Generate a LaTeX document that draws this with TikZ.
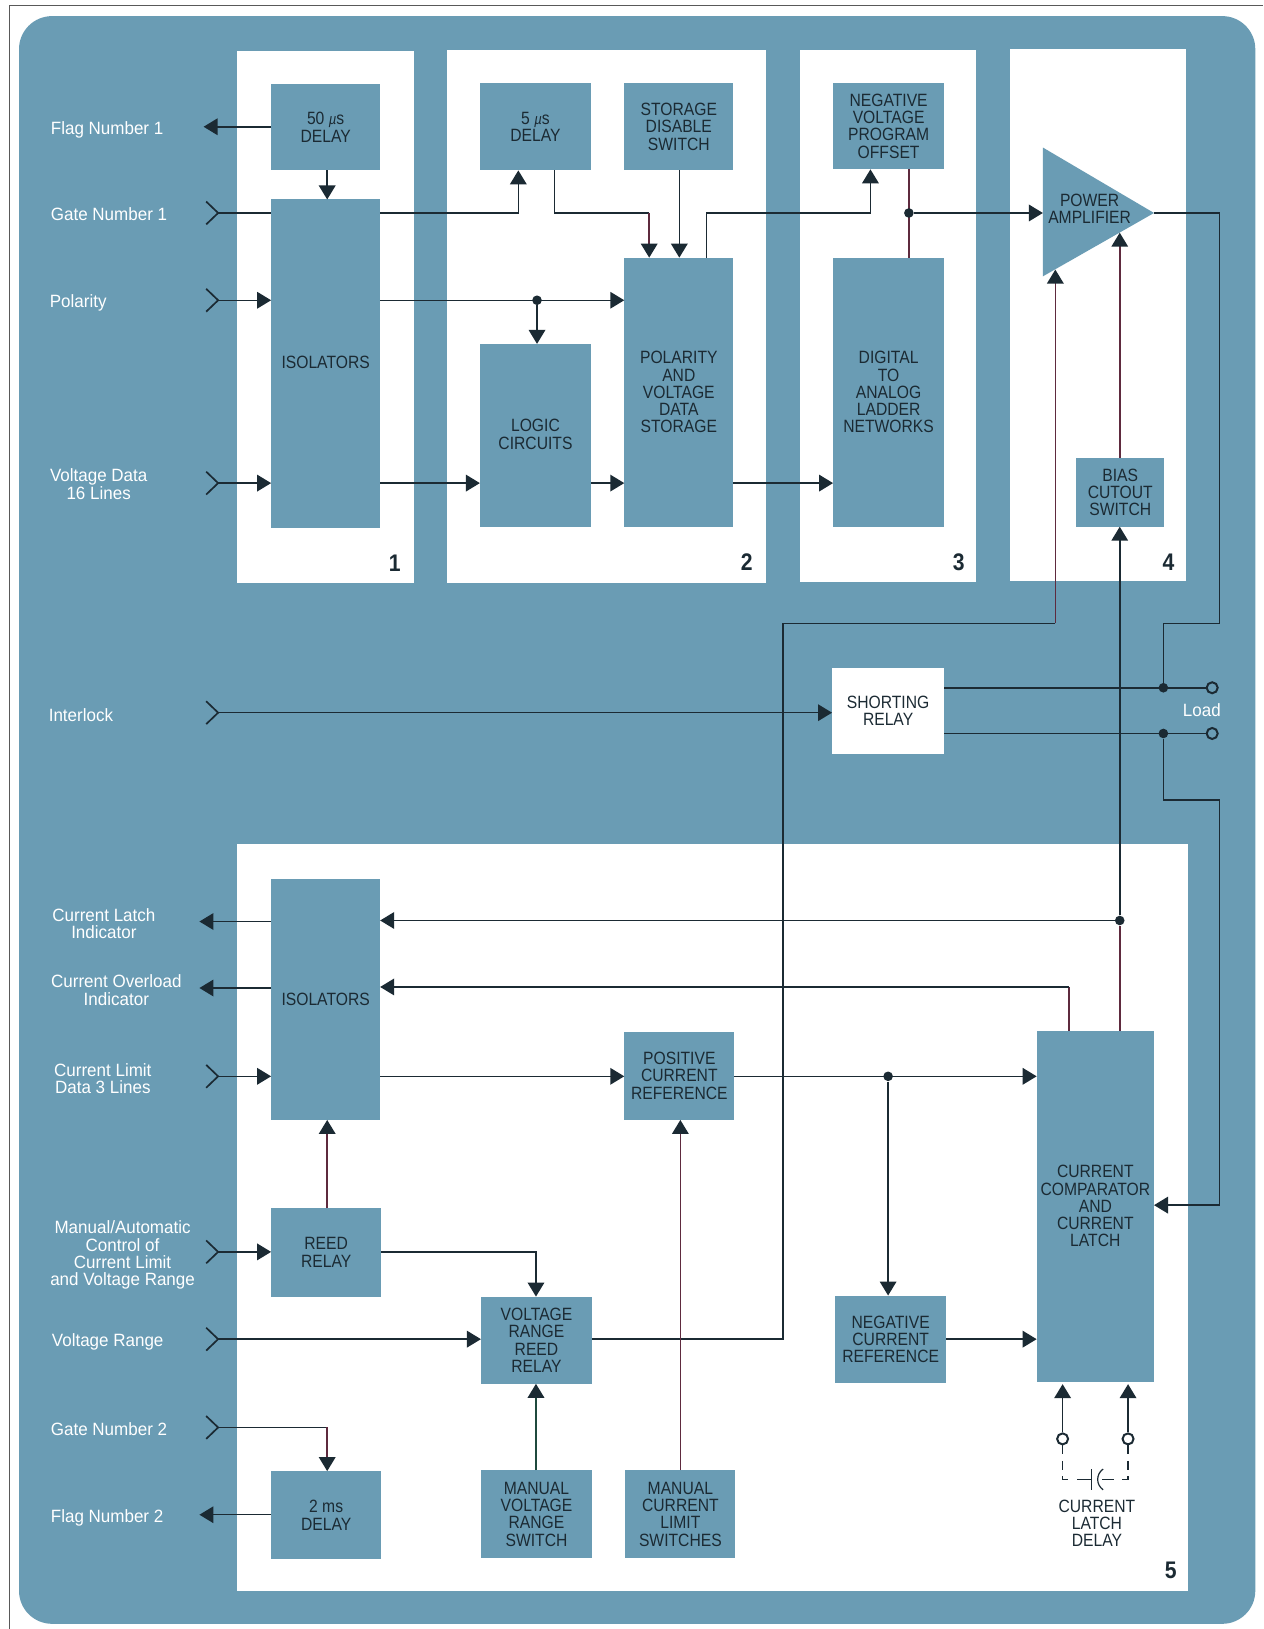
\documentclass[tikz,border=0pt]{standalone}
\usepackage{fontspec}
\setmainfont[FakeStretch=0.88]{Liberation Sans}
\newfontfamily\labelfont[FakeStretch=0.955]{Liberation Sans}
\usetikzlibrary{arrows.meta}
\definecolor{teal}{HTML}{6A9CB4}
\definecolor{ink}{HTML}{1B2A33}
\definecolor{maroon}{HTML}{5E2A3E}
\definecolor{dgreen}{HTML}{1F4A3E}
\tikzset{
  panel/.style={fill=white,draw=none},
  blocktext/.style={text=ink,font=\fontsize{8.9}{8.6}\selectfont,align=center,inner sep=0pt,outer sep=0pt},
  wlabel/.style={text=white,font=\labelfont\fontsize{8.9}{8.6}\selectfont,align=center,inner sep=0pt,outer sep=0pt},
  num/.style={text=ink,font=\fontsize{12}{12}\selectfont\bfseries,inner sep=0pt},
  wire/.style={draw=ink,line width=0.75pt},
  mwire/.style={draw=maroon,line width=0.75pt},
  gwire/.style={draw=dgreen,line width=0.75pt},
  arr/.style={-{Triangle[length=7pt,width=8.3pt,color=ink]}},
  jdot/.style={circle,fill=ink,inner sep=0pt,minimum size=4.8pt},
  term/.style={circle,draw=ink,line width=1pt,inner sep=0pt,minimum size=5.5pt},
  dashw/.style={draw=ink,line width=0.6pt,dash pattern=on 4.5pt off 3.2pt},
  chevron/.style={draw=ink,line width=0.85pt}
}
\newcommand{\bx}[7][teal]{%
  \pgfmathsetmacro{\cxx}{(#3+#5)/2}\pgfmathsetmacro{\cyy}{(#4+#6)/2}%
  \pgfmathsetmacro{\wdd}{(#5-#3)*0.5193}\pgfmathsetmacro{\htt}{(#6-#4)*0.5194}%
  \node[blocktext,fill=#1,minimum width=\wdd pt,minimum height=\htt pt] (#2) at (\cxx,\cyy) {#7};}
\newcommand{\chev}[2]{%
  \coordinate (#1) at (210,#2);
  \draw[chevron] (198.5,#2-11) -- (210,#2) -- (198.5,#2+11);}
\newcommand{\lvl}[1]{\coordinate (y#1) at (0,#1);}
\newcommand{\col}[1]{\coordinate (x#1) at (#1,0);}
\newcommand{\mus}{{\fontsize{7.5}{7.5}\selectfont\itshape µ}}
\begin{document}
\begin{tikzpicture}[x=0.5193pt,y=-0.5194pt]
\useasboundingbox (0,0) rectangle (1216,1568);
\fill[white] (0,0) rectangle (1216,1568);
\draw[gray!70!black,line width=0.35pt] (9,1568) -- (9,5.5) -- (1216,5.5);
\fill[teal,rounded corners=16.5pt] (18.3,15.5) rectangle (1208.5,1563);
% panels
\fill[panel] (228.5,49) rectangle (398.5,561);
\fill[panel] (430,48) rectangle (737,561);
\fill[panel] (770,48) rectangle (940,560);
\fill[panel] (972,47) rectangle (1142,559);
\fill[panel] (228.5,812) rectangle (1144,1531);
% level and column helpers
\foreach \v in {205,289,465,600,662,706,770,886,950,1036,1160,1205,1289,1374,1424,1414,1434}{\lvl{\v}}
\foreach \v in {499,534,625,654,680,838,875,1016,1029,1078,1120,1167,1174,754,517,855,315,516,655,1023,1086,1048,1051,1062,1314}{\col{\v}}
\coordinate (y122) at (0,122);\coordinate (y887) at (0,887);\coordinate (y951) at (0,951);\coordinate (y1458) at (0,1458);
% blocks
\bx{d50}{261}{81}{366}{164}{50 \mus s\\DELAY}
\bx{iso1}{261}{192}{366}{508}{\raisebox{1.5pt}{ISOLATORS}}
\bx{d5}{462}{80}{569}{164}{5 \mus s\\DELAY}
\bx{sds}{601}{80}{706}{164}{\raisebox{-0.5pt}{STORAGE}\\\raisebox{-0.5pt}{DISABLE}\\\raisebox{-0.5pt}{SWITCH}}
\bx{pvds}{601}{248}{706}{507}{POLARITY\\AND\\VOLTAGE\\DATA\\STORAGE}
\bx{logic}{462}{331}{569}{507}{\raisebox{1pt}{LOGIC}\\\raisebox{1pt}{CIRCUITS}}
\bx{nvpo}{802}{80}{909}{163}{\raisebox{-0.7pt}{NEGATIVE}\\\raisebox{-0.7pt}{VOLTAGE}\\\raisebox{-0.7pt}{PROGRAM}\\\raisebox{-0.7pt}{OFFSET}}
\bx{dac}{802}{248}{909}{507}{DIGITAL\\TO\\ANALOG\\LADDER\\NETWORKS}
\bx{bias}{1036}{441}{1121}{507}{BIAS\\CUTOUT\\SWITCH}
\bx[white]{short}{801}{643}{909}{726}{\raisebox{-1pt}{SHORTING}\\\raisebox{-1pt}{RELAY}}
\bx{iso2}{261}{846}{366}{1078}{ISOLATORS}
\bx{pcr}{601}{993}{707}{1078}{POSITIVE\\CURRENT\\REFERENCE}
\bx{ccl}{998}{992}{1111}{1330}{CURRENT\\COMPARATOR\\AND\\CURRENT\\LATCH}
\bx{reed}{261}{1163}{367}{1248}{REED\\RELAY}
\bx{vrr}{463}{1248}{570}{1332}{VOLTAGE\\RANGE\\REED\\RELAY}
\bx{ncr}{804}{1247}{911}{1331}{NEGATIVE\\CURRENT\\REFERENCE}
\bx{mvrs}{463}{1415}{570}{1500}{MANUAL\\VOLTAGE\\RANGE\\SWITCH}
\bx{mcls}{602}{1415}{708}{1500}{MANUAL\\CURRENT\\LIMIT\\SWITCHES}
\bx{d2}{261}{1416}{367}{1501}{2 ms\\DELAY}
% power amplifier
\coordinate (ampA) at (1004,142);\coordinate (ampB) at (1004,266);\coordinate (ampout) at (1111,205);
\fill[teal] (ampA) -- (ampout) -- (ampB) -- cycle;
\node[blocktext] (amp) at (1049,201) {POWER\\AMPLIFIER};
\coordinate (ampin) at (1004,205);\coordinate (ampbias) at (1078,224);\coordinate (amprange) at (1016,259.5);
% numbers
\node[num] (n1) at (380,542) {1};
\node[num] (n2) at (719,541) {2};
\node[num] (n3) at (923,541) {3};
\node[num] (n4) at (1125,541) {4};
\node[num] (n5) at (1127,1512) {5};
% white labels
\node[wlabel,anchor=west] (lf1) at (49,125) {Flag Number 1};
\node[wlabel,anchor=west] (lg1) at (49,206) {Gate Number 1};
\node[wlabel,anchor=west] (lp) at (48,292) {Polarity};
\node[wlabel] (lvd) at (95,466) {Voltage Data\\16 Lines};
\node[wlabel,anchor=west] (lil) at (47,688) {Interlock};
\node[wlabel] (lload) at (1157,684) {Load};
\node[wlabel] (lcl) at (100,889) {Current Latch\\Indicator};
\node[wlabel] (lco) at (112,953) {Current Overload\\Indicator};
\node[wlabel] (lcd) at (99,1038) {Current Limit\\Data 3 Lines};
\node[wlabel] (lma) at (118,1208) {Manual/Automatic\\Control of\\Current Limit\\and Voltage Range};
\node[wlabel,anchor=west] (lvr) at (50,1292) {Voltage Range};
\node[wlabel,anchor=west] (lg2) at (49,1376) {Gate Number 2};
\node[wlabel,anchor=west] (lf2) at (49,1461) {Flag Number 2};
% inputs
\chev{gate1}{205}
\chev{pol}{289}
\chev{vdata}{465}
\chev{ilock}{686}
\chev{climit}{1036}
\chev{mauto}{1205}
\chev{vrange}{1289}
\chev{gate2}{1374}
\coordinate (flag1) at (196,122);\coordinate (flag2) at (192,1458);
\coordinate (clatch) at (192,887);\coordinate (cover) at (192,951);
% top section wires
\draw[wire,arr] (d50.west |- y122) -- (flag1);
\draw[wire,arr] (d50.south -| x315) -- (iso1.north -| x315);
\draw[wire] (gate1) -- (iso1.west |- gate1);
\draw[wire,arr] (iso1.east |- y205) -- (x499 |- y205) -- (d5.south -| x499);
\draw[wire] (d5.south -| x534) -- (x534 |- y205) -- (x625 |- y205);
\draw[mwire,arr] (x625 |- y205) -- (pvds.north -| x625);
\draw[wire,arr] (sds.south -| x654) -- (pvds.north -| x654);
\draw[wire,arr] (pvds.north -| x680) -- (x680 |- y205) -- (x838 |- y205) -- (nvpo.south -| x838);
\draw[mwire] (nvpo.south -| x875) -- (dac.north -| x875);
\node[jdot] (j1) at (x875 |- y205) {};
\draw[wire,arr] (j1) -- (ampin);
\draw[wire] (ampout) -- (x1174 |- y205) -- (x1174 |- y600) -- (x1120 |- y600) -- (x1120 |- y662);
\draw[wire,arr] (pol) -- (iso1.west |- pol);
\draw[wire,arr] (iso1.east |- y289) -- (pvds.west |- y289);
\node[jdot] (j2) at (x517 |- y289) {};
\draw[wire,arr] (j2) -- (logic.north -| x517);
\draw[wire,arr] (vdata) -- (iso1.west |- vdata);
\draw[wire,arr] (iso1.east |- y465) -- (logic.west |- y465);
\draw[wire,arr] (logic.east |- y465) -- (pvds.west |- y465);
\draw[wire,arr] (pvds.east |- y465) -- (dac.west |- y465);
\draw[mwire,arr] (bias.north -| x1078) -- (ampbias);
% middle
\draw[wire,arr] (ilock) -- (short.west |- ilock);
\node[term] (t1) at (x1167 |- y662) {};
\node[term] (t2) at (x1167 |- y706) {};
\node[jdot] (j3) at (x1120 |- y662) {};
\node[jdot] (j4) at (x1120 |- y706) {};
\draw[wire] (short.east |- y662) -- (t1);
\draw[wire] (short.east |- y706) -- (t2);
\draw[wire,arr] (j4) -- (x1120 |- y770) -- (x1174 |- y770) -- (x1174 |- y1160) -- (ccl.east |- y1160);
\draw[wire] (vrr.east |- y1289) -- (x754 |- y1289) -- (x754 |- y600) -- (x1016 |- y600);
\draw[mwire,arr] (x1016 |- y600) -- (amprange);
% bottom section
\node[jdot] (j5) at (x1078 |- y886) {};
\draw[mwire] (ccl.north -| x1078) -- (j5);
\draw[wire,arr] (j5) -- (bias.south -| x1078);
\draw[wire,arr] (j5) -- (iso2.east |- y886);
\draw[mwire] (ccl.north -| x1029) -- (x1029 |- y950);
\draw[wire,arr] (x1029 |- y950) -- (iso2.east |- y950);
\draw[wire,arr] (iso2.west |- y887) -- (clatch);
\draw[wire,arr] (iso2.west |- y951) -- (cover);
\draw[wire,arr] (climit) -- (iso2.west |- climit);
\draw[wire,arr] (iso2.east |- y1036) -- (pcr.west |- y1036);
\draw[wire,arr] (pcr.east |- y1036) -- (ccl.west |- y1036);
\node[jdot] (j6) at (x855 |- y1036) {};
\draw[wire,arr] (j6) -- (ncr.north -| x855);
\draw[wire,arr] (ncr.east |- y1289) -- (ccl.west |- y1289);
\draw[mwire,arr] (reed.north -| x315) -- (iso2.south -| x315);
\draw[wire,arr] (mauto) -- (reed.west |- mauto);
\draw[wire,arr] (reed.east |- y1205) -- (x516 |- y1205) -- (vrr.north -| x516);
\draw[wire,arr] (vrange) -- (vrr.west |- vrange);
\draw[wire] (gate2) -- (x315 |- gate2);
\draw[mwire,arr] (x315 |- gate2) -- (d2.north -| x315);
\draw[wire,arr] (d2.west |- y1458) -- (flag2);
\draw[gwire,arr] (mvrs.north -| x516) -- (vrr.south -| x516);
\draw[mwire,arr] (mcls.north -| x655) -- (pcr.south -| x655);
% current latch delay
\node[term] (t3) at (1023,1385) {};
\node[term] (t4) at (1086,1385) {};
\draw[wire,arr,shorten >=1.2pt] (t3) -- (ccl.south -| t3);
\draw[wire,arr,shorten >=1.2pt] (t4) -- (ccl.south -| t4);
\coordinate (capL) at (1033,1424);
\coordinate (capR) at (1076,1424);
\draw[dashw] (t3.south) -- (t3 |- capL) -- (capL);
\draw[dashw] (t4.south) -- (t4 |- capR) -- (capR);
\draw[wire,line width=0.6pt] (1037,1424) -- (1051,1424);
\draw[wire,line width=0.6pt] (1061,1424) -- (1072,1424);
\draw[wire,line width=0.6pt] (1051,1414) -- (1051,1434);
\draw[wire,line width=0.6pt] (1062,1414) .. controls (1055,1419) and (1055,1429) .. (1062,1434);
\node[blocktext] (lcd2) at (1056,1466) {CURRENT\\LATCH\\DELAY};
\end{tikzpicture}
\end{document}
